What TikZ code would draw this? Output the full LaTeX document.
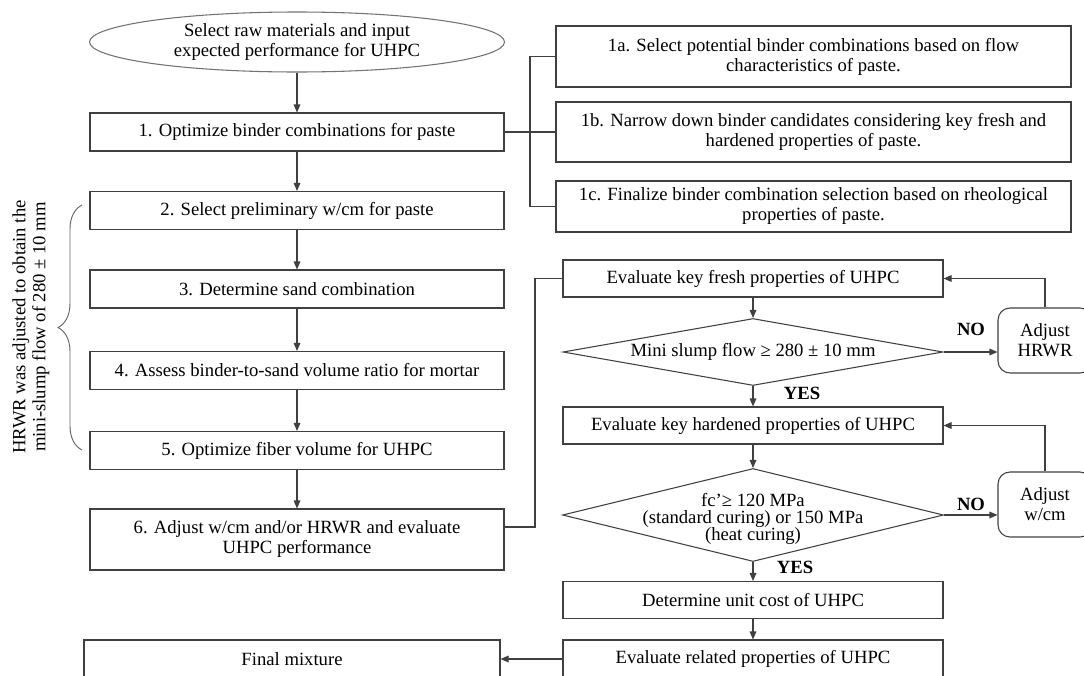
\documentclass[tikz,border=0pt]{standalone}
\usepackage{fontspec}
\setmainfont{Liberation Serif}
\usetikzlibrary{shapes.geometric, arrows.meta, decorations.pathreplacing}

\begin{document}
\begin{tikzpicture}[
  x=0.75pt, y=-0.75pt,
  every node/.style={font=\fontsize{14}{15}\selectfont},
  box/.style={rectangle, draw=black!75, line width=0.8pt, align=center, minimum height=28.5pt},
  leftbox/.style={box, minimum width=310.5pt},
  sidebox/.style={box, minimum width=386.25pt},
  midbox/.style={box, minimum width=285pt, minimum height=27.75pt},
  decision/.style={diamond, draw=black!75, line width=0.8pt, inner sep=0pt, aspect=5.6, align=center},
  adjust/.style={rectangle, rounded corners=9pt, draw=black!75, line width=0.8pt, align=center, minimum width=70.5pt, minimum height=48.75pt},
  answer/.style={font=\fontsize{14}{15}\selectfont\bfseries},
  link/.style={draw=black!75, line width=0.8pt},
  arrow/.style={link, -{Triangle[length=6pt, width=5pt]}}
]
\useasboundingbox (0,0) rectangle (1084,675);

\node[ellipse, draw=black!55, line width=0.8pt, inner sep=1pt, minimum width=311.25pt, minimum height=45pt, align=center] (start) at (297,42) {Select raw materials and input\\expected performance for UHPC};

\node[leftbox] (b1) at (297,132) {1. Optimize binder combinations for paste};
\node[leftbox] (b2) at (297,210.5) {2. Select preliminary w/cm for paste};
\node[leftbox] (b3) at (297,289) {3. Determine sand combination};
\node[leftbox] (b4) at (297,370.5) {4. Assess binder-to-sand volume ratio for mortar};
\node[leftbox] (b5) at (297,450.5) {5. Optimize fiber volume for UHPC};
\node[leftbox, minimum height=45.75pt] (b6) at (297,539.5) {6. Adjust w/cm and/or HRWR and evaluate\\UHPC performance};
\node[box, minimum width=312pt] (final) at (292,659) {Final mixture};

\node[sidebox, minimum height=45.75pt] (s1a) at (813.5,56.5) {1a. Select potential binder combinations based on flow\\characteristics of paste.};
\node[sidebox, minimum height=45pt] (s1b) at (813.5,132) {1b. Narrow down binder candidates considering key fresh and\\hardened properties of paste.};
\node[sidebox, minimum height=38.25pt] (s1c) at (813.5,206.5) {1c. Finalize binder combination selection based on rheological\\properties of paste.};

\node[midbox] (fresh) at (753,278.5) {Evaluate key fresh properties of UHPC};
\node[decision, minimum width=285pt, minimum height=50.25pt] (slump) at (753,352) {Mini slump flow ≥ 280 ± 10 mm};
\node[midbox] (hard) at (753,425.5) {Evaluate key hardened properties of UHPC};
\node[decision, minimum width=285.75pt, minimum height=69.75pt] (strength) at (753,515) {};
\node[align=center, font=\fontsize{14}{13}\selectfont] (strtext) at (753,519) {fc'≥ 120 MPa\\(standard curing) or 150 MPa\\(heat curing)};
\node[midbox] (cost) at (753,600) {Determine unit cost of UHPC};
\node[midbox, minimum height=28.5pt] (related) at (753,659) {Evaluate related properties of UHPC};

\node[adjust] (adj1) at (1045,340.5) {Adjust\\HRWR};
\node[adjust] (adj2) at (1045,504.5) {Adjust\\w/cm};

\node[answer] (no1) at (971,329) {NO};
\node[answer] (yes1) at (802,393) {YES};
\node[answer] (no2) at (971,504) {NO};
\node[answer] (yes2) at (795,567) {YES};

\coordinate (btop) at (82,205);
\coordinate (bbot) at (82,450);
\draw[draw=black!60, line width=0.7pt, decorate, decoration={brace, amplitude=18pt}] (bbot) -- (btop);
\node[rotate=90, align=center] (note) at (31,327) {HRWR was adjusted to obtain the\\mini-slump flow of 280 ± 10 mm};

\draw[arrow] (start) -- (b1);
\draw[arrow] (b1) -- (b2);
\draw[arrow] (b2) -- (b3);
\draw[arrow] (b3) -- (b4);
\draw[arrow] (b4) -- (b5);
\draw[arrow] (b5) -- (b6);

\coordinate (split) at (530,132);
\draw[link] (b1.east) -- (s1b.west);
\draw[link] (s1a.west) -| (split) |- (s1c.west);

\coordinate (join) at (535,527);
\draw[link] (b6.east |- join) -- (join) |- (fresh.west);

\draw[arrow] (fresh) -- (slump);
\draw[arrow] (slump) -- (hard);
\draw[arrow] (hard) -- (strength);
\draw[arrow] (strength) -- (cost);
\draw[arrow] (cost) -- (related);
\draw[arrow] (related) -- (final);

\draw[arrow] (slump.east) -- (slump.east -| adj1.west);
\draw[arrow] (adj1.north) |- (fresh.east);
\draw[arrow] (strength.east) -- (strength.east -| adj2.west);
\draw[arrow] (adj2.north) |- (hard.east);

\end{tikzpicture}
\end{document}
